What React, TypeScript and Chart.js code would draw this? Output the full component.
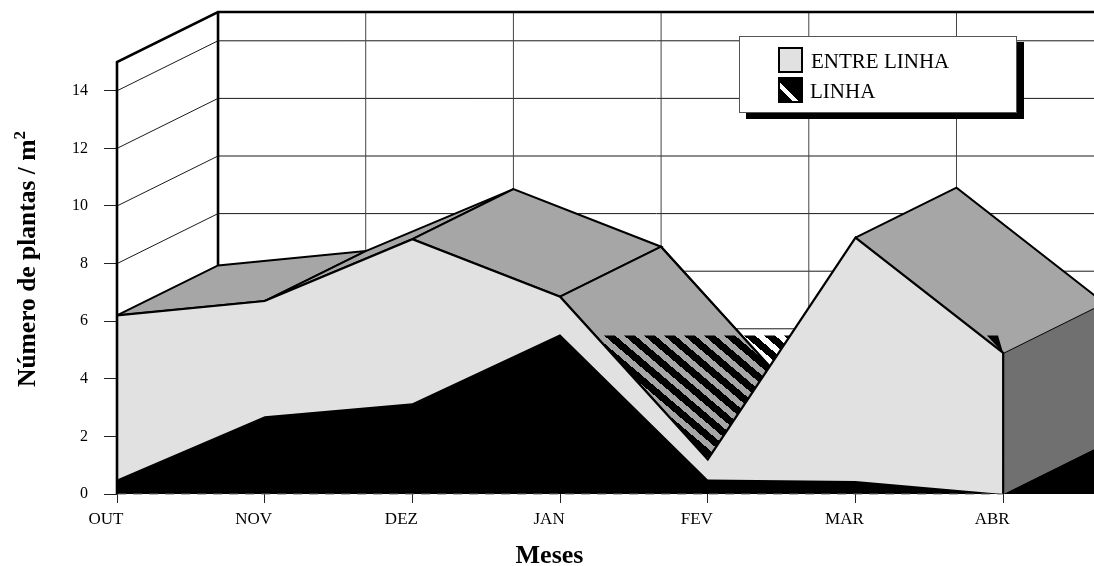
import React, { useEffect, useRef } from "react";
import { Chart, registerables } from "chart.js";

Chart.register(...registerables);

const categories = ["OUT", "NOV", "DEZ", "JAN", "FEV", "MAR", "ABR"];
const linhaValues = [0.5, 2.7, 3.15, 5.55, 0.5, 0.45, 0];
const entreLinhaValues = [6.2, 6.7, 8.85, 6.85, 1.2, 8.9, 4.9];
const yTickValues = [0, 2, 4, 6, 8, 10, 12, 14];
const hatchLevel = 5.5;
const fragmentX = [5.89, 5.965, 6];
const fragmentY = [5.5, 5.5, 4.9];

const DEPTH_X = 0.684;
const DEPTH_Y = 1.736;
const WALL_TOP = 15;
const X_MAX = 6.615;
const Y_MAX = WALL_TOP + DEPTH_Y;

const LIGHT = "#e1e1e1";
const MID = "#a6a6a6";
const DARK = "#707070";
const SERIF = "'Liberation Serif', 'Times New Roman', serif";

type P = { x: number; y: number };
const back = (p: P): P => ({ x: p.x + DEPTH_X, y: p.y + DEPTH_Y });

function hatchPattern(): CanvasPattern | string {
  const tile = document.createElement("canvas");
  tile.width = 20;
  tile.height = 17;
  const c = tile.getContext("2d");
  if (!c) return "#000";
  c.fillStyle = "#000";
  const k = 20 / 17;
  for (let y = 0; y < 17; y++) {
    for (let x = 0; x < 20; x++) {
      const v = (((x - k * y - 9.4) % 20) + 20) % 20;
      if (v < 11) c.fillRect(x, y, 1, 1);
    }
  }
  return c.createPattern(tile, "repeat") ?? "#000";
}

function shape(data: P[], fill: any, line?: string, width = 0, extra: any = {}) {
  return {
    type: "line",
    data,
    parsing: false,
    fill: fill ? "shape" : false,
    backgroundColor: fill || "transparent",
    borderColor: line || "transparent",
    borderWidth: line ? width : 0,
    pointRadius: 0,
    tension: 0,
    clip: false,
    spanGaps: false,
    borderJoinStyle: "miter",
    ...extra,
  };
}

function crossing(i: number, j: number, level: number): P {
  const a = entreLinhaValues[i];
  const b = entreLinhaValues[j];
  return { x: i + ((j - i) * (level - a)) / (b - a), y: level };
}

function buildDatasets() {
  const linha: P[] = linhaValues.map((y, x) => ({ x, y }));
  const entre: P[] = entreLinhaValues.map((y, x) => ({ x, y }));
  const last = categories.length - 1;
  const list: any[] = [];

  // walls
  yTickValues.forEach((v) => {
    list.push(shape([{ x: 0, y: v }, back({ x: 0, y: v }), { x: X_MAX + 1, y: v + DEPTH_Y }], null, "#1a1a1a", 1));
  });
  categories.forEach((_, i) => {
    if (i === 0) return;
    list.push(shape([back({ x: i, y: 0 }), back({ x: i, y: WALL_TOP })], null, "#444444", 1));
  });

  // floor wedge and side of the block
  list.push(
    shape(
      [entre[last], back(entre[last]), back({ x: last, y: 0 }), { x: last, y: 0 }, entre[last]],
      DARK,
      "#000",
      2
    )
  );
  list.push(shape([{ x: last, y: 0 }, back({ x: last, y: 0 }), { x: last + DEPTH_X, y: 0 }, { x: last, y: 0 }], "#000"));

  // upper faces
  [[0, 1], [1, 2], [2, 3], [3, 4], [5, 6]].forEach(([a, b]) => {
    list.push(shape([entre[a], back(entre[a]), back(entre[b]), entre[b], entre[a]], MID, "#000", 2));
  });

  // hatched plane of LINHA
  const h1 = crossing(3, 4, hatchLevel);
  const h2 = crossing(4, 5, hatchLevel);
  list.push(shape([h1, h2, entre[4], h1], hatchPattern()));
  list.push(
    shape(
      [
        { x: fragmentX[0], y: fragmentY[0] },
        { x: fragmentX[1], y: fragmentY[1] },
        { x: fragmentX[2], y: fragmentY[2] },
        { x: fragmentX[0], y: fragmentY[0] },
      ],
      "#000"
    )
  );
  list.push(shape([back(entre[3]), back(entre[4])], null, "#000", 2));

  // front faces
  list.push(shape([{ x: 0, y: 0 }, ...entre, { x: last, y: 0 }, { x: 0, y: 0 }], LIGHT));
  list.push(shape([{ x: 0, y: 0 }, ...linha, { x: 0, y: 0 }], "#000"));
  list.push(shape([...entre, { x: last, y: 0 }], null, "#000", 2.2));
  list.push(shape([{ x: 0, y: 0 }, { x: last, y: 0 }], null, "#6a6a6a", 1, { borderDash: [9, 7] }));

  // wall frame
  list.push(
    shape(
      [{ x: 0, y: 0 }, { x: 0, y: WALL_TOP }, { x: DEPTH_X, y: Y_MAX }, { x: X_MAX + 1, y: Y_MAX }],
      null,
      "#000",
      2.6
    )
  );
  list.push(shape([{ x: DEPTH_X, y: Y_MAX }, back(entre[0])], null, "#000", 2.6));

  const n = list.length;
  list.forEach((d, i) => (d.order = n - i));
  return list;
}

const titlesPlugin = {
  id: "axisTexts",
  afterDraw(chart: any) {
    const ctx = chart.ctx;
    ctx.save();
    ctx.fillStyle = "#000";
    ctx.textBaseline = "alphabetic";
    ctx.textAlign = "center";
    ctx.font = `bold 26px ${SERIF}`;
    ctx.fillText("Meses", 549.5, 563);
    ctx.translate(35, 387);
    ctx.rotate(-Math.PI / 2);
    ctx.textAlign = "left";
    ctx.font = `bold 25.5px ${SERIF}`;
    const main = "Número de plantas / m";
    ctx.fillText(main, 0, 0);
    const w = ctx.measureText(main).width;
    ctx.font = `bold 17px ${SERIF}`;
    ctx.fillText("2", w, -10);
    ctx.restore();
  },
};

export default function App() {
  const ref = useRef<HTMLCanvasElement>(null);
  useEffect(() => {
    if (!ref.current) return;
    const chart = new Chart(ref.current, {
      type: "line",
      data: { datasets: buildDatasets() },
      plugins: [titlesPlugin],
      options: {
        animation: false,
        responsive: false,
        devicePixelRatio: 1,
        layout: { padding: { top: 12, right: 0, bottom: 0, left: 0 } },
        plugins: { legend: { display: false }, tooltip: { enabled: false } },
        scales: {
          x: {
            type: "linear",
            min: 0,
            max: X_MAX,
            afterFit: (s: any) => {
              s.height = 72;
              s.paddingLeft = 0;
              s.paddingRight = 0;
            },
            afterBuildTicks: (s: any) => {
              s.ticks = categories.map((_, i) => ({ value: i }));
            },
            border: { display: false },
            grid: { drawOnChartArea: false, drawTicks: true, tickLength: 9, color: "#222" },
            ticks: {
              autoSkip: false,
              maxRotation: 0,
              padding: 6,
              labelOffset: -11,
              color: "#000",
              font: { family: SERIF, size: 17 },
              callback: (v: any) => categories[v as number] ?? "",
            },
          },
          y: {
            type: "linear",
            min: 0,
            max: Y_MAX,
            afterFit: (s: any) => {
              s.width = 117;
              s.paddingTop = 0;
              s.paddingBottom = 0;
            },
            afterBuildTicks: (s: any) => {
              s.ticks = yTickValues.map((value) => ({ value }));
            },
            border: { display: false },
            grid: { drawOnChartArea: false, drawTicks: true, tickLength: 13, color: "#222" },
            ticks: {
              autoSkip: false,
              padding: 16,
              color: "#000",
              font: { family: SERIF, size: 16 },
              callback: (v: any) => String(v),
            },
          },
        },
      } as any,
    } as any);
    return () => chart.destroy();
  }, []);

  const swatch = (top: number, bg: string): React.CSSProperties => ({
    position: "absolute",
    left: 38,
    top,
    width: 21,
    height: 22,
    border: "2px solid #000",
    background: bg,
  });
  const text = (left: number, top: number): React.CSSProperties => ({
    position: "absolute",
    left,
    top,
    fontFamily: SERIF,
    fontSize: 21,
    lineHeight: "24px",
    whiteSpace: "nowrap",
    color: "#000",
  });

  return (
    <div style={{ position: "fixed", left: 0, top: 0, width: 1094, height: 566, background: "#fff", overflow: "hidden" }}>
      <canvas ref={ref} width={1094} height={566} style={{ display: "block" }} />
      <div
        style={{
          position: "absolute",
          left: 739,
          top: 36,
          width: 276,
          height: 75,
          background: "#fff",
          border: "1px solid #555",
          boxShadow: "7px 6px 0 #000",
        }}
      >
        <div style={swatch(10, LIGHT)} />
        <div
          style={swatch(
            40,
            "repeating-linear-gradient(45deg, #000 0 9px, #fff 9px 13px, #000 13px 22px)"
          )}
        />
        <div style={text(71, 12)}>ENTRE LINHA</div>
        <div style={text(70, 42)}>LINHA</div>
      </div>
    </div>
  );
}
